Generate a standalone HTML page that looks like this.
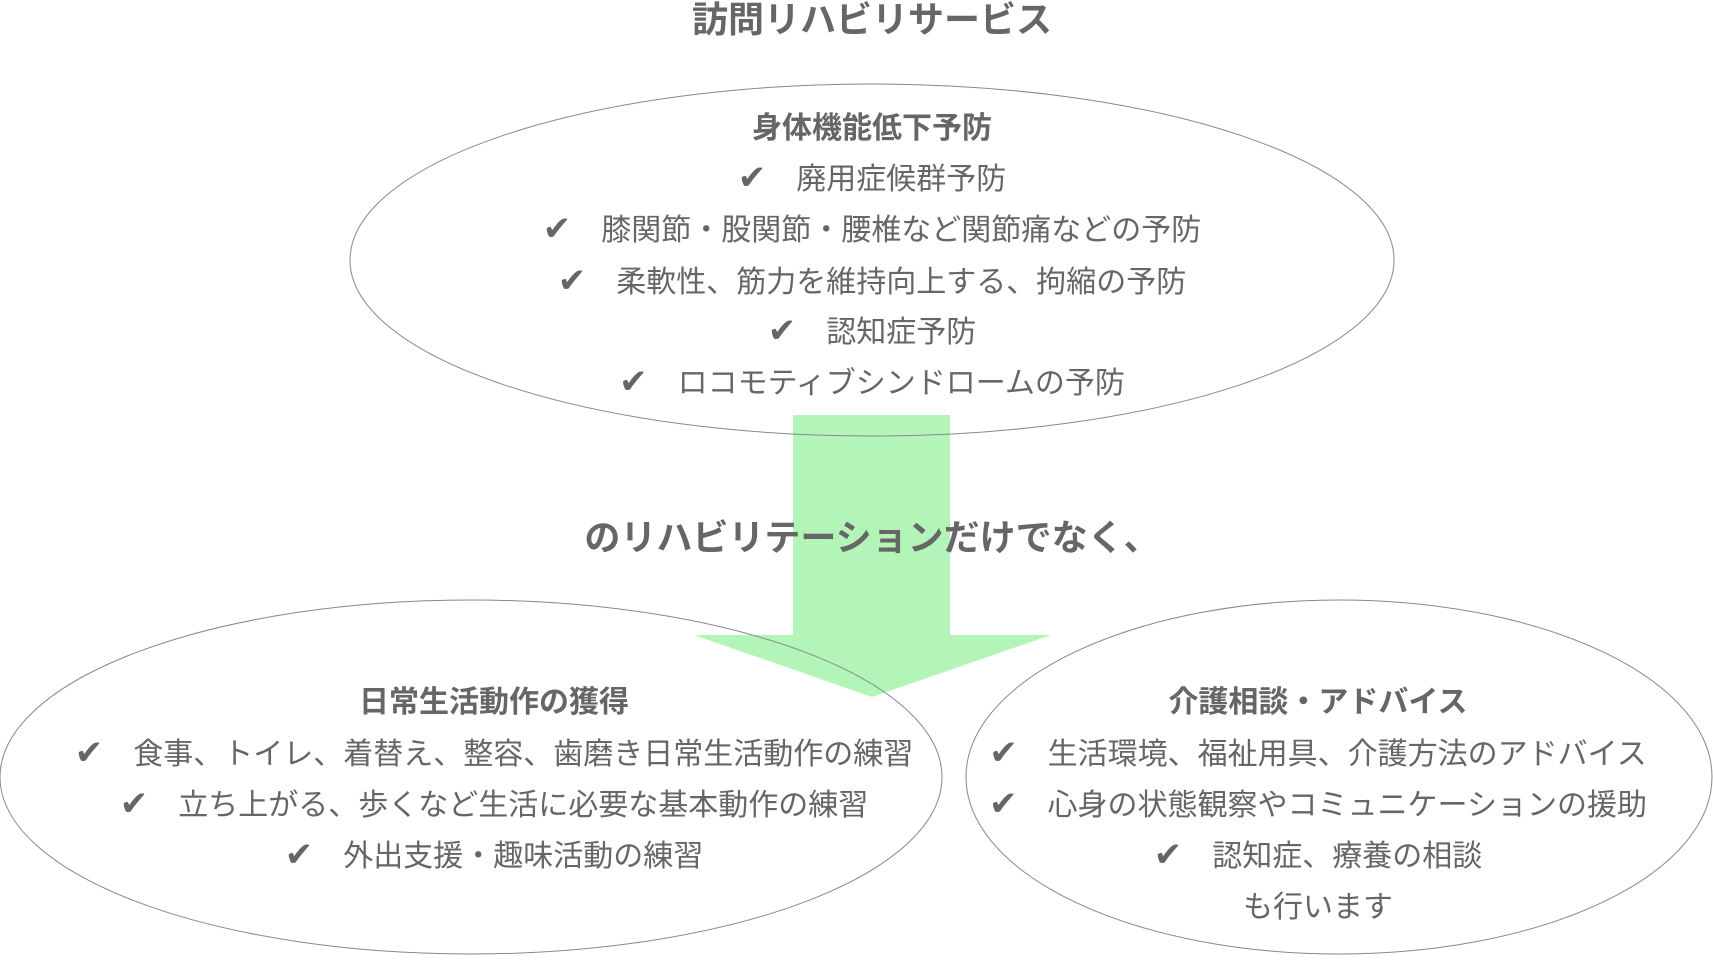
<!DOCTYPE html>
<html><head><meta charset="utf-8"><style>
html,body{margin:0;padding:0;background:#fff;}
svg{display:block;}
text{font-family:"Liberation Sans","Noto Sans CJK JP","DejaVu Sans",sans-serif;fill:#666;}
.h{font-weight:bold;font-size:30px;}
.t{font-size:30px;}
.c{font-size:34px;font-weight:bold;}
</style></head><body>
<svg width="1713" height="972" viewBox="0 0 1713 972" xmlns="http://www.w3.org/2000/svg">
<rect width="1713" height="972" fill="#fff"/>
<text x="872" y="32" text-anchor="middle" style="font-weight:bold;font-size:36px">訪問リハビリサービス</text>
<polygon points="793,415 950,415 950,635 1051,635 872,697 694,635 793,635" fill="#b3f5b8"/>
<ellipse cx="872" cy="260" rx="522" ry="176" fill="none" stroke="#888" stroke-width="1"/>
<ellipse cx="471" cy="777" rx="471" ry="177" fill="none" stroke="#888" stroke-width="1"/>
<ellipse cx="1339" cy="777" rx="373" ry="177" fill="none" stroke="#888" stroke-width="1"/>
<g text-anchor="middle">
<text class="h" x="872" y="138">身体機能低下予防</text>
<text class="t" x="872" y="189"><tspan class="c">✔</tspan>　廃用症候群予防</text>
<text class="t" x="872" y="240"><tspan class="c">✔</tspan>　膝関節・股関節・腰椎など関節痛などの予防</text>
<text class="t" x="872" y="292"><tspan class="c">✔</tspan>　柔軟性、筋力を維持向上する、拘縮の予防</text>
<text class="t" x="872" y="342"><tspan class="c">✔</tspan>　認知症予防</text>
<text class="t" x="872" y="393"><tspan class="c">✔</tspan>　ロコモティブシンドロームの予防</text>
<text x="872" y="550" style="font-weight:bold;font-size:36px">のリハビリテーションだけでなく、</text>
<text class="h" x="494" y="712">日常生活動作の獲得</text>
<text class="t" x="494" y="764"><tspan class="c">✔</tspan>　食事、トイレ、着替え、整容、歯磨き日常生活動作の練習</text>
<text class="t" x="494" y="815"><tspan class="c">✔</tspan>　立ち上がる、歩くなど生活に必要な基本動作の練習</text>
<text class="t" x="494" y="866"><tspan class="c">✔</tspan>　外出支援・趣味活動の練習</text>
<text class="h" x="1318" y="712">介護相談・アドバイス</text>
<text class="t" x="1318" y="764"><tspan class="c">✔</tspan>　生活環境、福祉用具、介護方法のアドバイス</text>
<text class="t" x="1318" y="815"><tspan class="c">✔</tspan>　心身の状態観察やコミュニケーションの援助</text>
<text class="t" x="1318" y="866"><tspan class="c">✔</tspan>　認知症、療養の相談</text>
<text class="t" x="1318" y="917">も行います</text>
</g>
</svg>
</body></html>
